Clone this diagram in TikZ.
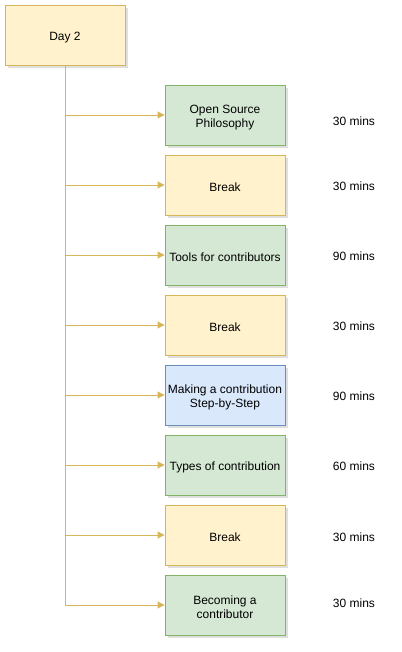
\documentclass[tikz,border=0pt]{standalone}
\usepackage{fontspec}
\setmainfont{Liberation Sans}
\usetikzlibrary{arrows.meta,shadows}
\definecolor{yfill}{HTML}{FFF2CC}
\definecolor{ydraw}{HTML}{D6B656}
\definecolor{gfill}{HTML}{D5E8D4}
\definecolor{gdraw}{HTML}{82B366}
\definecolor{bfill}{HTML}{DAE8FC}
\definecolor{bdraw}{HTML}{6C8EBF}
\tikzset{
  box/.style={draw, line width=0.9pt, minimum width=120pt, minimum height=60pt, inner sep=0pt,
    drop shadow={shadow xshift=3pt, shadow yshift=-3pt, opacity=0.25, fill=gray}},
  txt/.style={align=center, font=\fontsize{12}{14}\selectfont, inner sep=0pt, yshift=-2.5pt},
  ybox/.style={box, fill=yfill, draw=ydraw},
  gbox/.style={box, fill=gfill, draw=gdraw},
  bbox/.style={box, fill=bfill, draw=bdraw},
  conn/.style={draw=ydraw, line width=0.9pt, -{Triangle[length=7pt,width=7pt]}},
  tlabel/.style={font=\fontsize{12}{14}\selectfont, inner sep=0pt}
}
\begin{document}
\begin{tikzpicture}[x=1pt,y=-1pt]
\useasboundingbox (0,0) rectangle (401,652);
\node[ybox, label={[txt]center:Day 2}] (day) at (65,35) {};
\node[gbox, label={[txt]center:Open Source\\Philosophy}] (b1) at (225,115) {};
\node[ybox, label={[txt]center:Break}] (b2) at (225,185) {};
\node[gbox, label={[txt]center:Tools for contributors}] (b3) at (225,255) {};
\node[ybox, label={[txt]center:Break}] (b4) at (225,325) {};
\node[bbox, label={[txt]center:Making a contribution\\Step-by-Step}] (b5) at (225,395) {};
\node[gbox, label={[txt]center:Types of contribution}] (b6) at (225,465) {};
\node[ybox, label={[txt]center:Break}] (b7) at (225,535) {};
\node[gbox, label={[txt]center:Becoming a\\contributor}] (b8) at (225,605) {};
\node[tlabel] (t1) at (354,121) {30 mins};
\node[tlabel] (t2) at (354,186) {30 mins};
\node[tlabel] (t3) at (354,256) {90 mins};
\node[tlabel] (t4) at (354,326) {30 mins};
\node[tlabel] (t5) at (354,396) {90 mins};
\node[tlabel] (t6) at (354,466) {60 mins};
\node[tlabel] (t7) at (354,537) {30 mins};
\node[tlabel] (t8) at (354,603) {30 mins};
\foreach \b in {b1,b2,b3,b4,b5,b6,b7,b8}{
  \draw[conn] (day.south) |- (\b.west);
}
\end{tikzpicture}
\end{document}
